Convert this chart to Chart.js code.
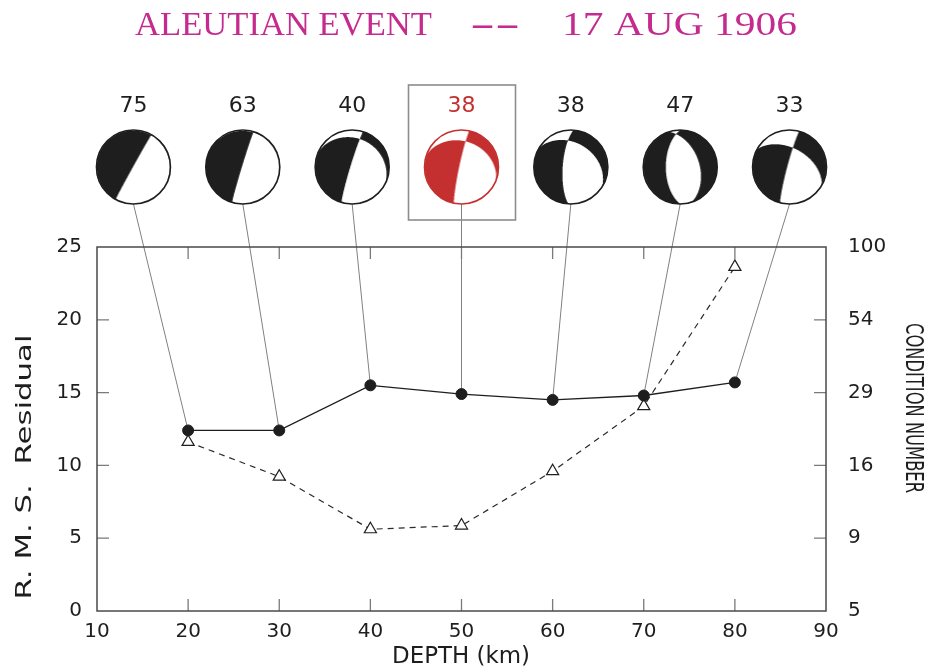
<!DOCTYPE html>
<html>
<head>
<meta charset="utf-8">
<script src="https://cdn.jsdelivr.net/npm/chart.js@4.4.0/dist/chart.umd.min.js"></script>
<style>
  html, body { margin: 0; background: #fff; }
</style>
</head>
<body>
<canvas id="chart" width="925" height="670"></canvas>
<script>
// trial depths and fit results
const depths = [20, 30, 40, 50, 60, 70, 80];
const rmsResidual = [12.4, 12.4, 15.5, 14.9, 14.5, 14.8, 15.7];
const conditionNumber = [20.1, 15.1, 9.8, 10.1, 15.8, 27.0, 84.9];
const fitScores = [75, 63, 40, 38, 38, 47, 33];
const bestIndex = 3;

// focal mechanism nodal planes for each depth: [strike, dip]
const planeA = [[209, 89], [197, 88], [197, 86], [192, 85], [184, 72], [180, 58], [195, 85]];
const planeB = [[299, 2], [290, 3], [295, 23], [290, 31], [302, 35], [342, 47], [299, 48]];

const depthTicks = [10, 20, 30, 40, 50, 60, 70, 80, 90];
const rmsTicks = [0, 5, 10, 15, 20, 25];
const conditionTickLabels = ["5", "9", "16", "29", "54", "100"];

const INK = "#1e1e1e";
const MAGENTA = "#c52a8e";
const RED = "#c4302f";
const BALL_R = 37;
const FONT = "DejaVu Sans";

function planeNormal(strike, dip) {
  const s = strike * Math.PI / 180, d = dip * Math.PI / 180;
  return [-Math.sin(d) * Math.sin(s), Math.sin(d) * Math.cos(s), -Math.cos(d)];
}

function drawBall(ctx, cx, cy, i, color) {
  const size = 2 * BALL_R + 4;
  const off = document.createElement("canvas");
  off.width = size;
  off.height = size;
  const octx = off.getContext("2d");
  const img = octx.createImageData(size, size);
  const n1 = planeNormal(planeA[i][0], planeA[i][1]);
  const n2 = planeNormal(planeB[i][0], planeB[i][1]);
  const rgb = color === RED ? [196, 48, 47] : [30, 30, 30];
  const ss = 3;
  for (let py = 0; py < size; py++) {
    for (let px = 0; px < size; px++) {
      let count = 0;
      for (let sy = 0; sy < ss; sy++) {
        for (let sx = 0; sx < ss; sx++) {
          const x = (px + (sx + 0.5) / ss - size / 2) / BALL_R;
          const y = -(py + (sy + 0.5) / ss - size / 2) / BALL_R;
          const r = Math.sqrt(x * x + y * y);
          if (r > 1) continue;
          const az = Math.atan2(x, y);
          const inc = 2 * Math.asin(r / Math.SQRT2);
          const v = [Math.sin(inc) * Math.cos(az), Math.sin(inc) * Math.sin(az), Math.cos(inc)];
          const d1 = v[0] * n1[0] + v[1] * n1[1] + v[2] * n1[2];
          const d2 = v[0] * n2[0] + v[1] * n2[1] + v[2] * n2[2];
          if (d1 * d2 < 0) count++;
        }
      }
      const k = (py * size + px) * 4;
      img.data[k] = rgb[0];
      img.data[k + 1] = rgb[1];
      img.data[k + 2] = rgb[2];
      img.data[k + 3] = Math.round(255 * count / (ss * ss));
    }
  }
  octx.putImageData(img, 0, 0);

  ctx.save();
  ctx.beginPath();
  ctx.arc(cx, cy, BALL_R, 0, Math.PI * 2);
  ctx.fillStyle = "#fff";
  ctx.fill();
  ctx.drawImage(off, cx - size / 2, cy - size / 2);
  ctx.beginPath();
  ctx.arc(cx, cy, BALL_R, 0, Math.PI * 2);
  ctx.strokeStyle = color;
  ctx.lineWidth = 1.6;
  ctx.stroke();
  ctx.restore();
}

function fitText(ctx, text, x, y, angle, font, width, color) {
  ctx.save();
  ctx.font = font;
  ctx.fillStyle = color;
  ctx.textAlign = "center";
  ctx.textBaseline = "middle";
  ctx.translate(x, y);
  ctx.rotate(angle);
  const w = ctx.measureText(text).width;
  ctx.scale(width / w, 1);
  ctx.fillText(text, 0, 0);
  ctx.restore();
}

function ballCenter(chart, i) {
  const x = chart.scales.x;
  return { x: x.getPixelForValue(50 + (i - bestIndex) * 12), y: chart.chartArea.top - 80 };
}

const decorations = {
  id: "decorations",
  beforeDatasetsDraw(chart) {
    const { ctx, chartArea: a, scales } = chart;
    ctx.save();
    // leader lines from each mechanism to its point
    ctx.strokeStyle = "#808080";
    ctx.lineWidth = 1;
    depths.forEach((d, i) => {
      const c = ballCenter(chart, i);
      ctx.beginPath();
      ctx.moveTo(c.x, c.y + BALL_R);
      ctx.lineTo(scales.x.getPixelForValue(d), scales.y.getPixelForValue(rmsResidual[i]));
      ctx.stroke();
    });
    // inward ticks
    ctx.strokeStyle = "#7a7a7a";
    ctx.lineWidth = 1.3;
    const tl = 12;
    ctx.beginPath();
    depthTicks.slice(1, -1).forEach(v => {
      const px = scales.x.getPixelForValue(v);
      ctx.moveTo(px, a.bottom); ctx.lineTo(px, a.bottom - tl);
      ctx.moveTo(px, a.top); ctx.lineTo(px, a.top + tl);
    });
    rmsTicks.slice(1, -1).forEach(v => {
      const py = scales.y.getPixelForValue(v);
      ctx.moveTo(a.left, py); ctx.lineTo(a.left + tl, py);
    });
    scales.y2.ticks.slice(1, -1).forEach(t => {
      const py = scales.y2.getPixelForValue(t.value);
      ctx.moveTo(a.right, py); ctx.lineTo(a.right - tl, py);
    });
    ctx.stroke();
    // frame
    ctx.strokeStyle = "#4a4a4a";
    ctx.lineWidth = 1.5;
    ctx.strokeRect(a.left, a.top, a.right - a.left, a.bottom - a.top);
    ctx.restore();
  },
  afterDraw(chart) {
    const { ctx } = chart;
    const titleFont = '34px "Liberation Serif"';
    fitText(ctx, "ALEUTIAN EVENT", 283.5, 26, 0, titleFont, 297, MAGENTA);
    fitText(ctx, "--", 495, 26, 0, titleFont, 50, MAGENTA);
    fitText(ctx, "17 AUG 1906", 679.5, 26, 0, titleFont, 235, MAGENTA);
    fitText(ctx, "R. M. S.  Residual", 25, 467, -Math.PI / 2, "22px " + FONT, 265, INK);
    fitText(ctx, "CONDITION NUMBER", 912, 408, Math.PI / 2, "24px " + FONT, 170, INK);
    fitText(ctx, "DEPTH (km)", 461, 657, 0, "23px " + FONT, 138, INK);

    fitScores.forEach((s, i) => {
      const c = ballCenter(chart, i);
      const color = i === bestIndex ? RED : INK;
      ctx.save();
      ctx.font = "22px " + FONT;
      ctx.fillStyle = color;
      ctx.textAlign = "center";
      ctx.textBaseline = "middle";
      ctx.fillText(String(s), c.x, c.y - 61);
      ctx.restore();
      drawBall(ctx, c.x, c.y, i, color);
      if (i === bestIndex) {
        ctx.save();
        ctx.strokeStyle = "#8c8c8c";
        ctx.lineWidth = 1.6;
        ctx.strokeRect(c.x - 53, c.y - 82, 107, 135);
        ctx.restore();
      }
    });
  }
};

const tickFont = { family: FONT, size: 20 };

new Chart(document.getElementById("chart"), {
  type: "line",
  data: {
    datasets: [
      {
        label: "R. M. S. Residual",
        data: depths.map((d, i) => ({ x: d, y: rmsResidual[i] })),
        yAxisID: "y",
        borderColor: INK,
        borderWidth: 1.3,
        pointRadius: 5.5,
        pointBackgroundColor: INK,
        pointBorderColor: INK,
        pointBorderWidth: 1,
        tension: 0,
      },
      {
        label: "Condition Number",
        data: depths.map((d, i) => ({ x: d, y: conditionNumber[i] })),
        yAxisID: "y2",
        borderColor: "#2a2a2a",
        borderWidth: 1.2,
        borderDash: [6, 5],
        pointStyle: "triangle",
        pointRadius: 7,
        pointBackgroundColor: "#fff",
        pointBorderColor: INK,
        pointBorderWidth: 1.2,
        tension: 0,
      },
    ],
  },
  options: {
    responsive: false,
    animation: false,
    layout: { padding: { top: 247, left: 0, right: 0, bottom: 0 } },
    plugins: {
      legend: { display: false },
      tooltip: { enabled: false },
    },
    scales: {
      x: {
        type: "linear",
        min: 10,
        max: 90,
        afterBuildTicks: s => { s.ticks = depthTicks.map(v => ({ value: v })); },
        afterFit: s => { s.height = 59; },
        grid: { display: false, drawTicks: false },
        border: { display: false },
        ticks: { font: tickFont, color: INK, padding: 9, maxRotation: 0, autoSkip: false },
      },
      y: {
        position: "left",
        min: 0,
        max: 25,
        afterBuildTicks: s => { s.ticks = rmsTicks.map(v => ({ value: v })); },
        afterFit: s => { s.width = 97; },
        grid: { display: false, drawTicks: false },
        border: { display: false },
        ticks: { font: tickFont, color: INK, padding: 15, autoSkip: false },
      },
      y2: {
        type: "logarithmic",
        position: "right",
        min: 5,
        max: 100,
        afterBuildTicks: s => {
          s.ticks = conditionTickLabels.map((l, k) => ({ value: 5 * Math.pow(20, k / 5) }));
        },
        afterFit: s => { s.width = 99; },
        grid: { display: false, drawTicks: false },
        border: { display: false },
        ticks: {
          font: tickFont,
          color: INK,
          padding: 22,
          autoSkip: false,
          callback: (v, i) => conditionTickLabels[i],
        },
      },
    },
  },
  plugins: [decorations],
});
</script>
</body>
</html>
